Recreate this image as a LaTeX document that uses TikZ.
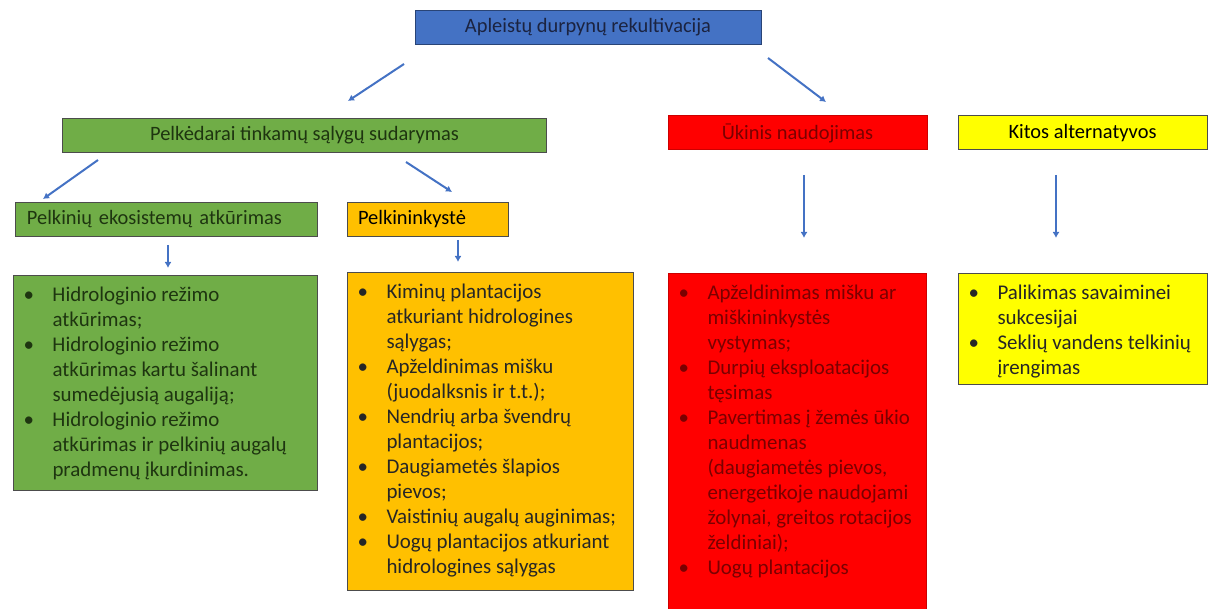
\documentclass[tikz,border=0pt]{standalone}
\usepackage{fontspec}
\setmainfont{Carlito}
\usetikzlibrary{arrows.meta,calc,positioning}
\definecolor{hblue}{HTML}{4472C4}
\definecolor{hgreen}{HTML}{70AD47}
\definecolor{horange}{HTML}{FFC000}
\definecolor{hred}{HTML}{FF0000}
\definecolor{hyellow}{HTML}{FFFF00}
\definecolor{darkred}{HTML}{7A0000}
\definecolor{darkgreen}{HTML}{1E3510}
\definecolor{darkblue}{HTML}{1B2340}
\tikzset{>=Latex}
\tikzset{
  hdr/.style={draw=black!70, line width=1bp, minimum height=34bp, inner sep=0pt, font=\fontsize{20.5}{22}\selectfont},
  lhdr/.style={hdr, align=left, inner xsep=11bp},
  lst/.style={draw=black!70, line width=1bp, anchor=north west, inner xsep=8bp, inner ysep=0pt},
  arrow/.style={-{Latex[length=6bp,width=7bp]}, line width=2bp, draw=hblue},
}
% bullet line with hanging indent
\newcommand{\bul}{\par\noindent\hangindent=31bp\hangafter=1\makebox[31bp][l]{\hspace{2bp}\textbullet}}
\newcommand{\lsttxt}[3]{\parbox[t][#2][t]{#1}{\fontsize{21}{25.1}\selectfont\raggedright\vspace*{11bp}#3}}

\begin{document}
\begin{tikzpicture}[x=1bp, y=-1bp]
\useasboundingbox (0,0) rectangle (1209,609);

% headers
\node[hdr, fill=hblue, draw=hblue!60!black, text=darkblue, minimum width=346bp] (top) at (588,27.5) {Apleistų durpynų rekultivacija};
\node[hdr, fill=hgreen, text=darkgreen, minimum width=483bp] (pelk) at (304.5,135.5) {Pelkėdarai tinkamų sąlygų sudarymas};
\node[hdr, fill=hred, draw=hred!80!black, text=darkred, minimum width=259bp] (ukis) at (797.5,133) {Ūkinis naudojimas};
\node[hdr, fill=hyellow, minimum width=249bp] (kitos) at (1082.5,133) {Kitos alternatyvos};
\node[lhdr, fill=hgreen, text=darkgreen, text width=279bp] (ekos) at (166.5,219.5) {Pelkinių ekosistemų atkūrimas};
\node[lhdr, fill=horange, text width=139bp] (pelkin) at (427.5,219.5) {Pelkininkystė};

% lists
\node[lst, fill=hgreen, text=darkgreen] (ekoslist) at (13,275) {\lsttxt{288bp}{215bp}{%
  \bul Hidrologinio režimo\newline atkūrimas;
  \bul Hidrologinio režimo\newline atkūrimas kartu šalinant\newline sumedėjusią augaliją;
  \bul Hidrologinio režimo\newline atkūrimas ir pelkinių augalų\newline pradmenų įkurdinimas.}};
\node[lst, fill=horange, text=black!85] (pelkinlist) at (347,272) {\lsttxt{270bp}{318bp}{%
  \bul Kiminų plantacijos\newline atkuriant hidrologines\newline sąlygas;
  \bul Apželdinimas mišku\newline (juodalksnis ir t.t.);
  \bul Nendrių arba švendrų\newline plantacijos;
  \bul Daugiametės šlapios\newline pievos;
  \bul Vaistinių augalų auginimas;
  \bul Uogų plantacijos atkuriant\newline hidrologines sąlygas}};
\node[lst, fill=hred, draw=hred!80!black, text=darkred] (ukislist) at (668,273) {\lsttxt{242bp}{345bp}{%
  \bul Apželdinimas mišku ar\newline miškininkystės\newline vystymas;
  \bul Durpių eksploatacijos\newline tęsimas
  \bul Pavertimas į žemės ūkio\newline naudmenas\newline (daugiametės pievos,\newline energetikoje naudojami\newline žolynai, greitos rotacijos\newline želdiniai);
  \bul Uogų plantacijos}};
\node[lst, fill=hyellow, text=black!85] (kitoslist) at (958,273) {\lsttxt{233bp}{111bp}{%
  \bul Palikimas savaiminei\newline sukcesijai
  \bul Seklių vandens telkinių\newline įrengimas}};

% arrow ends
\coordinate (a1s) at (404,64);   \coordinate (a1e) at (348,101);
\coordinate (a2s) at (768,58);   \coordinate (a2e) at (826,102);
\coordinate (a3s) at (98,160);   \coordinate (a3e) at (43,199);
\coordinate (a4s) at (406,162);  \coordinate (a4e) at (452,192);
\coordinate (a5s) at (168,245);  \coordinate (a5e) at (168,268);
\coordinate (a6s) at (458,240);  \coordinate (a6e) at (458,262);
\coordinate (a7s) at (804,175);  \coordinate (a7e) at (804,238);
\coordinate (a8s) at (1056,175); \coordinate (a8e) at (1056,238);

\foreach \i in {1,...,8}
  \draw[arrow] (a\i s) -- (a\i e);
\end{tikzpicture}
\end{document}
